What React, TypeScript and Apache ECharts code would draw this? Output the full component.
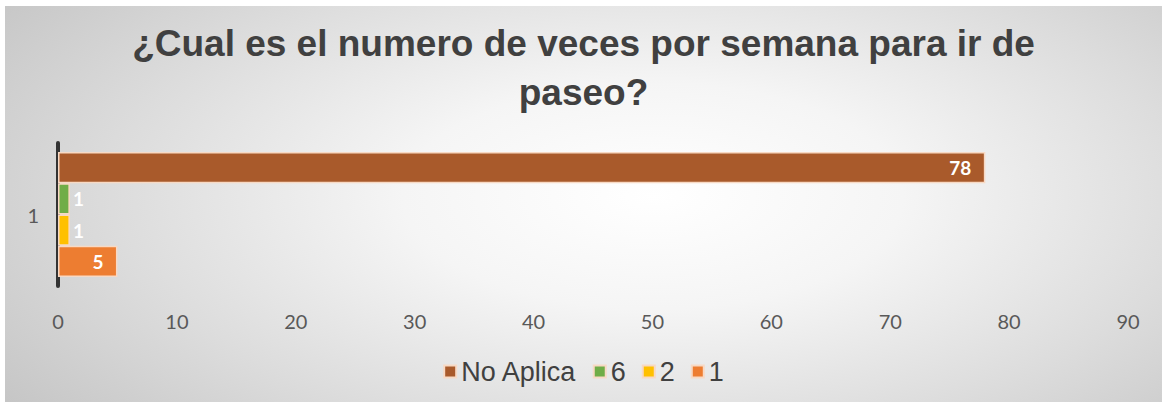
import React, { useEffect, useRef } from "react";
import * as echarts from "echarts";

const titleText = "¿Cual es el numero de veces por semana para ir de\npaseo?";
const categories = ["1"];
const seriesNames = ["No Aplica", "6", "2", "1"];
const seriesValues = [[78], [1], [1], [5]];
const seriesColors = ["#A95A2B", "#70AD47", "#FFC000", "#ED7D31"];
const xTicks = { min: 0, max: 90, interval: 10 };

export default function App() {
  const ref = useRef<HTMLDivElement>(null);
  useEffect(() => {
    if (!ref.current) return;
    const chart = echarts.init(ref.current, null, { renderer: "svg" });
    const labelFont = "Lato, 'Open Sans', sans-serif";
    chart.setOption({
      animation: false,
      backgroundColor: "transparent",
      title: {
        text: titleText,
        left: "center",
        top: 8,
        textStyle: {
          fontFamily: "'Liberation Sans', Arial, sans-serif",
          fontWeight: "bold",
          fontSize: 37,
          lineHeight: 49,
          color: "#404040",
        },
      },
      legend: {
        data: seriesNames,
        bottom: 12,
        left: "center",
        icon: "rect",
        itemWidth: 12,
        itemHeight: 12,
        itemGap: 16,
        textStyle: {
          fontFamily: "'Liberation Sans', Arial, sans-serif",
          fontSize: 27,
          color: "#404040",
        },
      },
      grid: { left: 53, right: 34, top: 137, bottom: 116, containLabel: false },
      xAxis: {
        type: "value",
        min: xTicks.min,
        max: xTicks.max,
        interval: xTicks.interval,
        axisLine: { show: false },
        axisTick: { show: false },
        splitLine: { show: false },
        axisLabel: { fontFamily: labelFont, fontSize: 20, color: "#595959", margin: 25 },
      },
      yAxis: {
        type: "category",
        data: categories,
        axisLine: { show: true, lineStyle: { color: "#333333", width: 4 } },
        axisTick: { show: false },
        axisLabel: { fontFamily: labelFont, fontSize: 20, color: "#595959", margin: 19 },
      },
      series: seriesNames.map((name, i) => ({
        name,
        type: "bar",
        data: seriesValues[i],
        barGap: "0%",
        barCategoryGap: "12.6%",
        itemStyle: { color: seriesColors[i], borderColor: "#F8D9C4", borderWidth: 1.5 },
        label: {
          show: true,
          position: seriesValues[i][0] >= 3 ? "insideRight" : "right",
          distance: seriesValues[i][0] >= 3 ? 14 : 3,
          color: "#ffffff",
          fontFamily: labelFont,
          fontWeight: "bold",
          fontSize: 19,
        },
      })),
    });
    return () => chart.dispose();
  }, []);
  return (
    <div style={{ position: "fixed", left: 0, top: 0, width: 1162, height: 402, background: "#ffffff" }}>
      <div
        style={{
          position: "absolute",
          left: 5,
          top: 6,
          width: 1157,
          height: 396,
          background:
            "radial-gradient(ellipse 72% 95% at 56% 48%, #ffffff 0%, #f5f5f5 30%, #dcdcdc 65%, #c2c2c2 100%)",
        }}
      >
        <div ref={ref} style={{ width: 1157, height: 396 }} />
      </div>
    </div>
  );
}
